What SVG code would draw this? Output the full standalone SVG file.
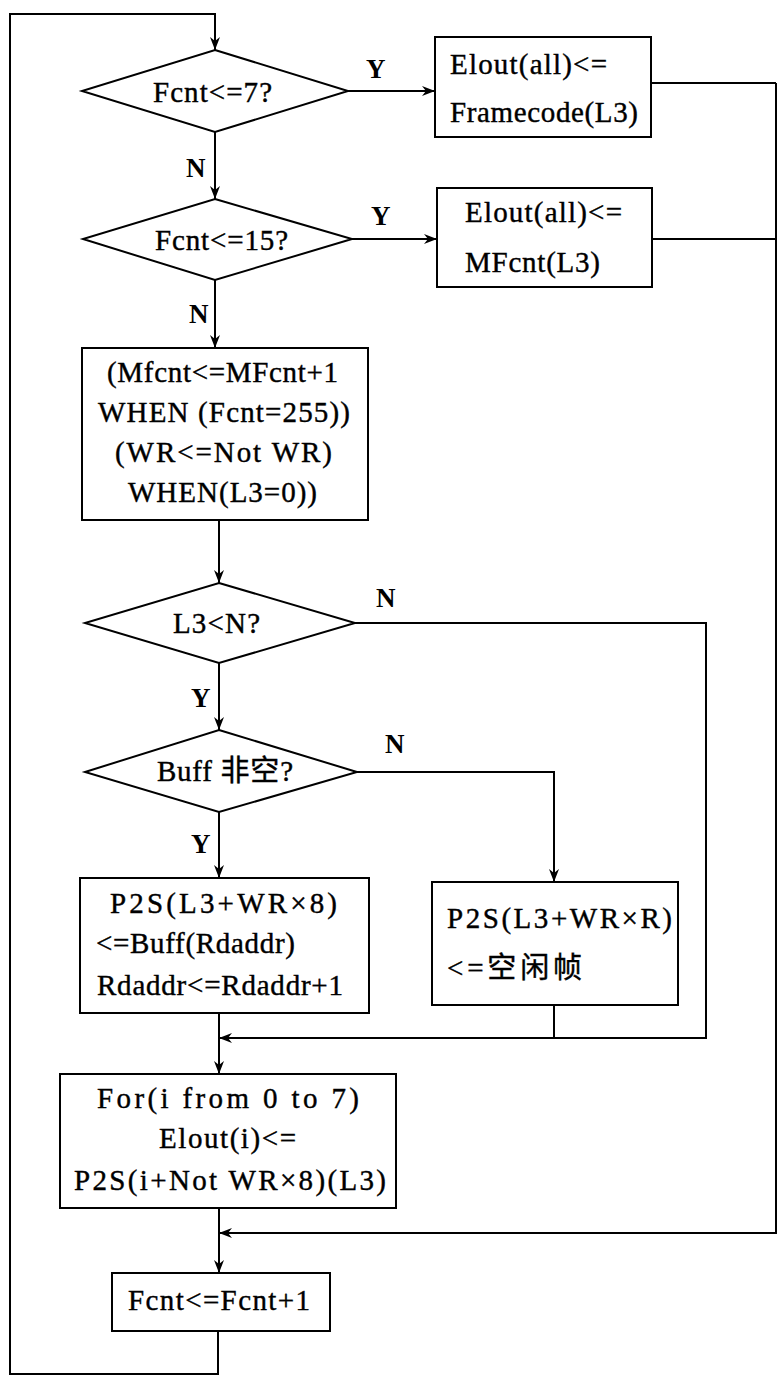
<svg xmlns="http://www.w3.org/2000/svg" width="779" height="1376" viewBox="0 0 779 1376">
<style>
.s{fill:#fff;stroke:#000;stroke-width:2}
.c{fill:none;stroke:#000;stroke-width:2}
.t{font-family:"Liberation Serif","Noto Sans CJK SC",serif;font-size:29px;fill:#000;stroke:#000;stroke-width:0.4}
.l{font-family:"Liberation Serif",serif;font-size:27px;font-weight:bold;fill:#000}
</style>
<defs>
<marker id="a" markerWidth="14" markerHeight="10" refX="13" refY="5" orient="auto" markerUnits="userSpaceOnUse">
<path d="M0,0 L13,5 L0,10 L4,5 z" fill="#000"/>
</marker>
</defs>
<rect width="779" height="1376" fill="#fff"/>
<g id="connectors">
<path class="c" d="M218,1331 V1374 H10 V14 H215 V50" marker-end="url(#a)"/>
<path class="c" d="M215,132 V199" marker-end="url(#a)"/>
<path class="c" d="M348,91 H435" marker-end="url(#a)"/>
<path class="c" d="M352,239 H437" marker-end="url(#a)"/>
<path class="c" d="M651,83 H776 M652,239 H776"/>
<path class="c" d="M776,83 V1233 H219" marker-end="url(#a)"/>
<path class="c" d="M215,280 V348" marker-end="url(#a)"/>
<path class="c" d="M219,520 V583" marker-end="url(#a)"/>
<path class="c" d="M355,623 H706 V1038 H219" marker-end="url(#a)"/>
<path class="c" d="M219,663 V730" marker-end="url(#a)"/>
<path class="c" d="M357,772 H554 V882" marker-end="url(#a)"/>
<path class="c" d="M219,812 V878" marker-end="url(#a)"/>
<path class="c" d="M554,1005 V1038"/>
<path class="c" d="M219,1013 V1074" marker-end="url(#a)"/>
<path class="c" d="M219,1208 V1273" marker-end="url(#a)"/>
<text class="l" x="366" y="78">Y</text>
<text class="l" x="371" y="225">Y</text>
<text class="l" x="186" y="177">N</text>
<text class="l" x="189" y="323">N</text>
<text class="l" x="376" y="607">N</text>
<text class="l" x="385" y="753">N</text>
<text class="l" x="191" y="707">Y</text>
<text class="l" x="191" y="853">Y</text>
</g>
<g id="d1">
<polygon class="s" points="215,50 348,91 215,132 82,91"/>
<text class="t" x="153" y="102" textLength="119" lengthAdjust="spacing">Fcnt&lt;=7?</text>
</g>
<g id="b1">
<rect class="s" x="435" y="37" width="216" height="100"/>
<text class="t" x="450" y="74" textLength="157" lengthAdjust="spacing">Elout(all)&lt;=</text>
<text class="t" x="450" y="122" textLength="188" lengthAdjust="spacing">Framecode(L3)</text>
</g>
<g id="d2">
<polygon class="s" points="215,199 352,239 215,280 83,239"/>
<text class="t" x="155" y="250" textLength="133" lengthAdjust="spacing">Fcnt&lt;=15?</text>
</g>
<g id="b2">
<rect class="s" x="437" y="188" width="215" height="99"/>
<text class="t" x="465" y="222" textLength="157" lengthAdjust="spacing">Elout(all)&lt;=</text>
<text class="t" x="465" y="272" textLength="135" lengthAdjust="spacing">MFcnt(L3)</text>
</g>
<g id="b3">
<rect class="s" x="82" y="348" width="286" height="172"/>
<text class="t" x="107" y="382" textLength="231" lengthAdjust="spacing">(Mfcnt&lt;=MFcnt+1</text>
<text class="t" x="98" y="422" textLength="252" lengthAdjust="spacing">WHEN (Fcnt=255))</text>
<text class="t" x="115" y="462" textLength="217" lengthAdjust="spacing">(WR&lt;=Not WR)</text>
<text class="t" x="128" y="502" textLength="189" lengthAdjust="spacing">WHEN(L3=0))</text>
</g>
<g id="d3">
<polygon class="s" points="219,583 355,623 219,663 85,623"/>
<text class="t" x="173" y="633" textLength="87" lengthAdjust="spacing">L3&lt;N?</text>
</g>
<g id="d4">
<polygon class="s" points="219,730 357,772 219,812 85,772"/>
<text class="t" x="157" y="781" textLength="136" lengthAdjust="spacing">Buff 非空?</text>
</g>
<g id="b4">
<rect class="s" x="80" y="878" width="289" height="135"/>
<text class="t" x="110" y="913" textLength="227" lengthAdjust="spacing">P2S(L3+WR×8)</text>
<text class="t" x="96" y="953" textLength="199" lengthAdjust="spacing">&lt;=Buff(Rdaddr)</text>
<text class="t" x="97" y="995" textLength="246" lengthAdjust="spacing">Rdaddr&lt;=Rdaddr+1</text>
</g>
<g id="b5">
<rect class="s" x="432" y="882" width="246" height="123"/>
<text class="t" x="447" y="928" textLength="225" lengthAdjust="spacing">P2S(L3+WR×R)</text>
<text class="t" x="447" y="978" textLength="135" lengthAdjust="spacing">&lt;=空闲帧</text>
</g>
<g id="b6">
<rect class="s" x="60" y="1074" width="336" height="134"/>
<text class="t" x="97" y="1108" textLength="262" lengthAdjust="spacing">For(i from 0 to 7)</text>
<text class="t" x="159" y="1148" textLength="137" lengthAdjust="spacing">Elout(i)&lt;=</text>
<text class="t" x="74" y="1190" textLength="312" lengthAdjust="spacing">P2S(i+Not WR×8)(L3)</text>
</g>
<g id="b7">
<rect class="s" x="112" y="1273" width="218" height="58"/>
<text class="t" x="128" y="1310" textLength="182" lengthAdjust="spacing">Fcnt&lt;=Fcnt+1</text>
</g>
</svg>
